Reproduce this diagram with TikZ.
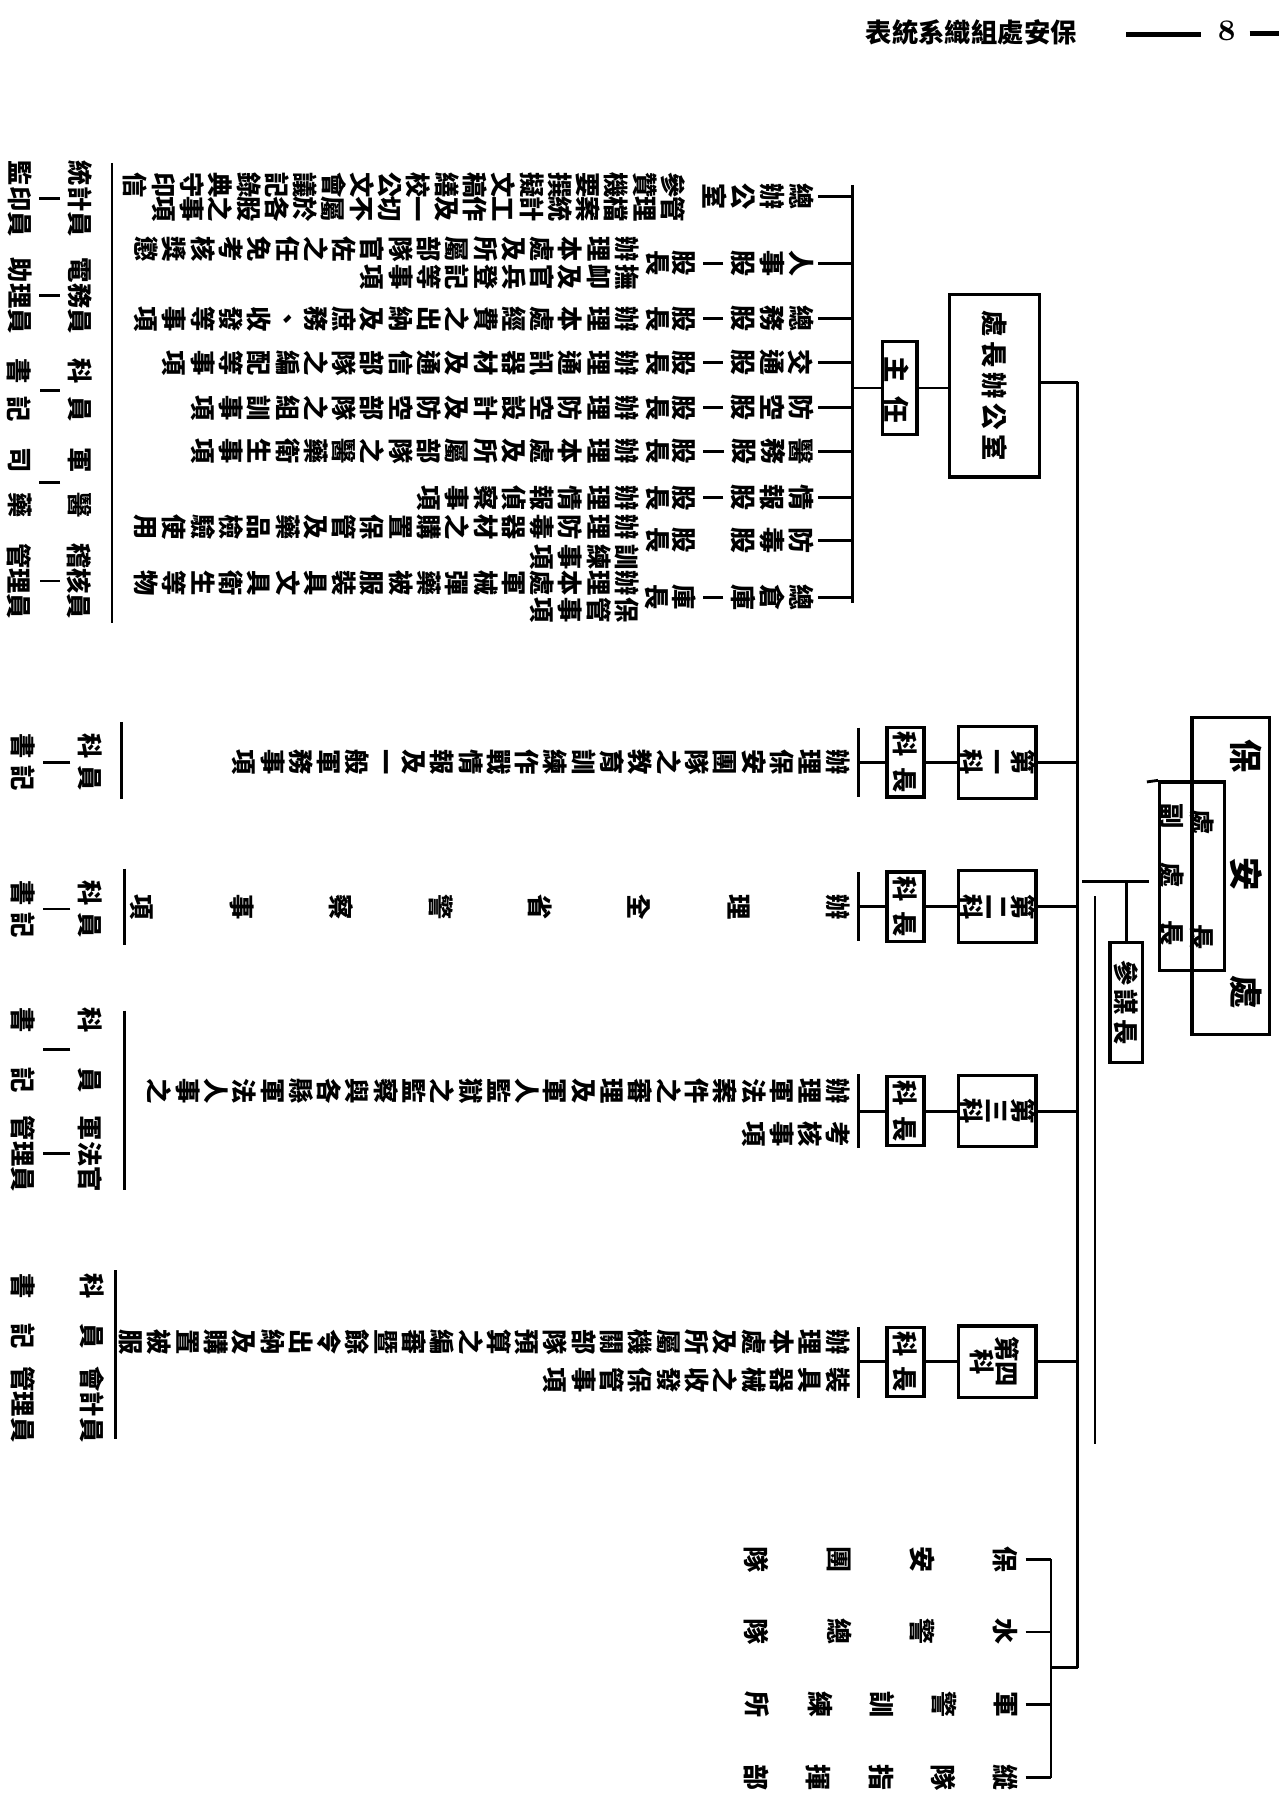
\documentclass[tikz,border=0pt]{standalone}
\usepackage{fontspec}
\newfontfamily\cjk{Noto Sans CJK TC}
\usetikzlibrary{positioning}
\makeatletter
% vertical column of characters (read right to left once rotated)
\newcommand\vst[2][8pt]{\vbox{\baselineskip=#1\relax\lineskiplimit=-20pt\lineskip=0pt%
  \edef\vst@t{#2}\expandafter\vst@a\vst@t\relax}}
\def\vst@a#1{\ifx\relax#1\else\hbox{#1}\expandafter\vst@a\fi}
% letter spaced line
\newcommand\hsp[2]{\def\hsp@g{#1}\edef\hsp@t{#2}\expandafter\hsp@a\hsp@t\relax\unskip}
\def\hsp@a#1{\ifx\relax#1\else#1\hskip\hsp@g\relax\expandafter\hsp@a\fi}
\makeatother
\newcommand\uu{0.011554cm}
\newcommand\fname{\cjk\bfseries\fontsize{7.4}{8}\selectfont}
\tikzset{
  box/.style = {draw, line width=0.9pt, inner sep=0pt},
  ln/.style  = {line width=0.8pt},
  rt/.style  = {rotate=-90, inner sep=0pt, font=\cjk\bfseries\fontsize{7.2}{8}\selectfont},
  col/.style = {rotate=-90, anchor=north, inner sep=0pt, font=\cjk\bfseries\fontsize{7.2}{8}\selectfont},
}
\begin{document}
\begin{tikzpicture}[x=0.011554cm, y=-0.011554cm]
  \useasboundingbox (0,0) rectangle (1107,1568);
  % running head
  \node[inner sep=0pt, font=\cjk\bfseries\fontsize{7.5}{8}\selectfont] (head) at (841,28) {表統系織組處安保};
  \node[inner sep=0pt, font=\bfseries\fontsize{8.5}{9}\selectfont] (page) at (1062,27) {8};
  \coordinate (h1) at (975,30); \coordinate (h2) at (1040,30);
  \coordinate (h3) at (1082,29); \coordinate (h4) at (1107,29);
  \draw[line width=1.5pt] (h1) -- (h2);
  \draw[line width=1.5pt] (h3) -- (h4);
  % root and heads
  \node[box, minimum width=67*\uu, minimum height=275*\uu] (root) at (1065.5,758.5) {};
  \node[rt, font=\cjk\bfseries\fontsize{9.5}{10}\selectfont] (roott) at (1079,757) {\hsp{24pt}{保安處}};
  \node[box, minimum width=56*\uu, minimum height=163*\uu] (chief) at (1032,758.5) {};
  \node[rt] (chf) at (1041,761.5) {\hsp{25.5pt}{處長}};
  \node[rt] (dep) at (1015,757.5) {\hsp{9.5pt}{副處長}};
  \coordinate (cx) at (993,677);
  \draw[ln] (cx) -- (chief.north west);
  \node[box, minimum width=28*\uu, minimum height=104*\uu] (cos) at (975,868) {};
  \node[rt] (cost) at (cos) {\hsp{1.3pt}{參謀長}};
  \coordinate (j1) at (937,763); \coordinate (j2) at (995,763);
  \draw[ln] (j1) -- (j2);
  \draw[ln] (cos.north) -- (cos.north |- j2);
  % spine
  \coordinate (sp0) at (933,331); \coordinate (sp1) at (933,1444);
  \coordinate (c0) at (948,776); \coordinate (c1) at (948,1250);
  \draw[ln] (sp0) -- (sp1);
  \draw[ln] (c0) -- (c1);
  % office of the head
  \node[box, minimum width=78*\uu, minimum height=158*\uu] (off) at (861,334) {};
  \node[rt, font=\cjk\bfseries\fontsize{7.5}{8}\selectfont] (offt) at (off) {\hsp{1.3pt}{處長辦公室}};
  \draw[ln] (off.east |- sp0) -- (sp0);
  \node[box, minimum width=30*\uu, minimum height=80*\uu] (dir) at (779,336) {};
  \node[rt, font=\cjk\bfseries\fontsize{7.5}{8}\selectfont] (dirt) at (776,337.5) {\hsp{4pt}{主任}};
  \draw[ln] (dir.east) -- (off.west |- dir.east);
  \coordinate (gb0) at (738,160); \coordinate (gb1) at (738,522);
  \draw[ln] (gb0) -- (gb1);
  \draw[ln] (dir.west) -- (dir.west -| gb0);
  % sections
  \node[col, font=\fname] (gn0) at (705,170) {\vst[8.2pt]{總辦公室}};
  \draw[ln, shorten <=1pt] (gn0.north) -- (gn0.north -| gb0);
  \foreach \nm/\hd/\yy [count=\i] in {人事股/股長/228, 總務股/股長/276, 交通股/股長/314,
      防空股/股長/353, 醫務股/股長/391, 情報股/股長/431, 防毒股/股長/468, 總倉庫/庫長/517}{
    \node[col, font=\fname] (gn\i) at (705,\yy) {\vst[8.2pt]{\nm}};
    \node[col] (gh\i) at (603,\yy) {\vst[7.6pt]{\hd}};
    \draw[ln, shorten <=1pt] (gn\i.north) -- (gn\i.north -| gb0);
  }
  \foreach \i in {1,2,3,4,5,6,8}{
    \draw[ln, shorten <=2pt, shorten >=2pt] (gn\i.south) -- (gh\i.north);}
  \node[col] (gd0a) at (594,160) {\vst[8.05pt]{參贊機要撰擬文稿繕校公文會議記錄典守印信}};
  \node[col] (gd0b) at (594,181) {\vst[8.05pt]{管理檔案統計工作及一切不屬於各股之事項}};
  \node[col] (gd1a) at (554,216) {\vst[8.05pt]{辦理本處及所屬部隊官佐之任免考核獎懲}};
  \node[col] (gd1b) at (554,240) {\vst[8.05pt]{撫卹及官兵登記等事項}};
  \node[col] (gd2) at (554,276) {\vst[8.05pt]{辦理本處經費之出納及庶務、收發等事項}};
  \node[col] (gd3) at (554,314) {\vst[8.05pt]{辦理通訊器材及通信部隊之編配等事項}};
  \node[col] (gd4) at (554,353) {\vst[8.05pt]{辦理防空設計及防空部隊之組訓事項}};
  \node[col] (gd5) at (554,391) {\vst[8.05pt]{辦理本處及所屬部隊之醫藥衛生事項}};
  \node[col] (gd6) at (554,431) {\vst[8.05pt]{辦理情報偵察事項}};
  \node[col] (gd7a) at (554,456) {\vst[8.05pt]{辦理防毒器材之購置保管及藥品檢驗使用}};
  \node[col] (gd7b) at (554,482) {\vst[8.05pt]{訓練事項}};
  \node[col] (gd8a) at (554,505) {\vst[8.05pt]{辦理本處軍械彈藥被服裝具文具衛生等物}};
  \node[col] (gd8b) at (554,528) {\vst[8.05pt]{保管事項}};
  \coordinate (gl0) at (97,141); \coordinate (gl1) at (97,539);
  \draw[ln] (gl0) -- (gl1);
  \foreach \a/\b/\yy/\g in {統計員/監印員/172/0pt, 電務員/助理員/256/0pt, 科員/書記/338/3.5pt,
      軍醫/司藥/418/5.5pt, 稽核員/管理員/503/0pt}{
    \node[rt] (sa) at (69,\yy) {\hsp{\g}{\a}};
    \node[rt] (sb) at (17,\yy) {\hsp{\g}{\b}};
    \draw[ln, shorten <=2pt, shorten >=2pt] (sa.south) -- (sb.north);
  }
  % divisions
  \foreach \k/\yy/\ya/\yb in {1/660/630/690, 2/785/755/815, 3/962/930/994, 4/1179/1149/1210}{
    \node[box, minimum width=67*\uu, minimum height=62*\uu] (k\k) at (863.5,\yy) {};
    \node[box, minimum width=32*\uu, minimum height=60*\uu] (kz\k) at (784,\yy) {};
    \node[rt] (kzt\k) at (kz\k) {\hsp{3pt}{科長}};
    \coordinate (kba\k) at (743,\ya); \coordinate (kbb\k) at (743,\yb);
    \draw[ln] (kba\k) -- (kbb\k);
    \draw[ln] (k\k.east) -- (k\k.east -| sp0);
    \draw[ln] (k\k.west) -- (kz\k.east);
    \draw[ln] (kz\k.west) -- (kz\k.west -| kba\k);
  }
  \node[rt] (kt1) at (k1) {\vst[7.4pt]{第一科}};
  \node[rt] (kt2) at (k2) {\vst[7.4pt]{第二科}};
  \node[rt] (kt3) at (k3) {\vst[7.4pt]{第三科}};
  \node[rt] (kt4a) at (872,1179) {第四};
  \node[rt] (kt4b) at (850,1179) {科};
  \node[col] (kd1) at (737,660) {\vst[8.05pt]{辦理保安團隊之教育訓練作戰情報及一般軍務事項}};
  \node[col] (kd2) at (737,785) {\vst[28.3pt]{辦理全省警察事項}};
  \node[col] (kd3a) at (737,945) {\vst[8.05pt]{辦理軍法案件之審理及軍人監獄之監察與各縣軍法人事之}};
  \node[col] (kd3b) at (737,982) {\vst[8.05pt]{考核事項}};
  \node[col] (kd4a) at (737,1162) {\vst[8.05pt]{辦理本處及所屬機關部隊預算之編審暨餘令出納及購置被服}};
  \node[col] (kd4b) at (737,1195) {\vst[8.05pt]{裝具器械之收發保管事項}};
  % staff of the divisions
  \coordinate (kl1a) at (105,625); \coordinate (kl1b) at (105,692);
  \coordinate (kl2a) at (108,752); \coordinate (kl2b) at (108,818);
  \coordinate (kl3a) at (108,875); \coordinate (kl3b) at (108,1030);
  \coordinate (kl4a) at (100,1100); \coordinate (kl4b) at (100,1246);
  \foreach \k in {1,...,4}{\draw[ln] (kl\k a) -- (kl\k b);}
  \foreach \a/\b/\xx/\yy/\g [count=\i] in {科員/書記/78/660/2pt, 科員/書記/78/787/2pt,
      科員/書記/78/909/10pt, 軍法官/管理員/78/999/0pt}{
    \node[rt] (ka\i) at (\xx,\yy) {\hsp{\g}{\a}};
    \node[rt] (kb\i) at (20,\yy) {\hsp{\g}{\b}};
    \draw[ln, shorten <=2pt, shorten >=2pt] (ka\i.south) -- (kb\i.north);
  }
  \node[rt] (ka5) at (80,1135) {\hsp{7pt}{科員}};
  \node[rt] (kb5) at (20,1135) {\hsp{7pt}{書記}};
  \node[rt] (ka6) at (80,1216) {會計員};
  \node[rt] (kb6) at (20,1216) {管理員};
  % units
  \coordinate (ub0) at (910,1350); \coordinate (ub1) at (910,1539);
  \draw[ln] (ub0) -- (ub1);
  \draw[ln] (sp1) -- (sp1 -| ub0);
  \foreach \t/\yy/\s [count=\i] in {保安團隊/1350/23.6pt, 水警總隊/1413/23.6pt,
      軍警訓練所/1476/17.7pt, 縱隊指揮部/1539/17.7pt}{
    \node[col, font=\fname] (un\i) at (882,\yy) {\vst[\s]{\t}};
    \draw[ln, shorten <=2pt] (un\i.north) -- (un\i.north -| ub0);
  }
\end{tikzpicture}
\end{document}
